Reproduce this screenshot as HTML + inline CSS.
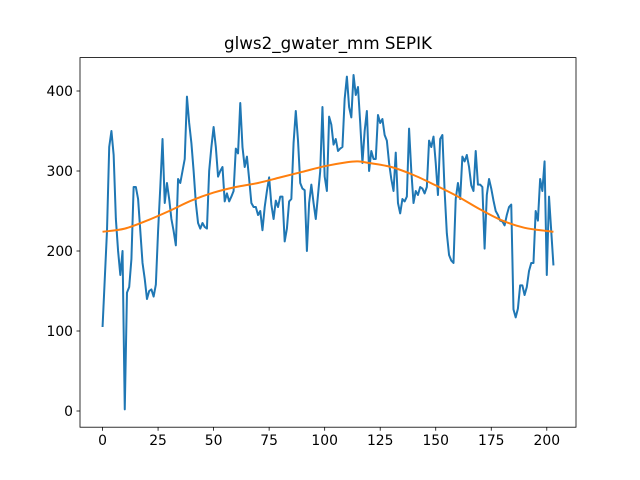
<!DOCTYPE html>
<html><head><meta charset="utf-8"><style>
body{margin:0;background:#fff}
svg{display:block;font-family:"DejaVu Sans","Liberation Sans",sans-serif}
</style></head><body>
<svg id="chart" width="640" height="480" viewBox="0 0 640 480">
<rect width="640" height="480" fill="#fff"/>
<text x="328" y="49" text-anchor="middle" font-size="16.7">glws2_gwater_mm SEPIK</text>
<g id="ticks"></g>
<g id="series"></g>
<rect x="80" y="57.6" width="496" height="369.6" fill="none" stroke="#000" stroke-width="0.8"/>
</svg>
<script>
const values = [105,165,225,330,350,320,240,200,170,200,2,148,155,190,280,280,265,225,185,165,140,150,152,143,158,225,280,340,260,285,265,240,225,207,290,285,300,315,393,360,335,300,260,235,228,235,230,228,300,330,355,330,293,300,305,262,272,262,268,275,328,322,385,330,305,318,290,260,255,255,245,250,226,255,275,292,258,240,263,255,268,268,212,228,262,265,335,375,338,285,278,276,200,260,283,260,240,270,300,380,293,275,368,358,333,340,325,328,330,390,418,380,367,420,395,405,360,310,350,375,300,325,315,315,370,360,365,345,338,310,290,275,323,260,247,265,262,268,353,300,260,275,270,280,278,272,280,338,330,343,310,270,340,345,275,222,195,188,185,265,285,265,318,312,320,305,282,275,325,283,283,280,203,270,290,278,263,250,245,238,237,232,245,255,258,127,117,128,157,157,145,155,175,185,185,250,238,290,275,312,170,268,225,182];
const fitX = [0,10,20,30,40,50,60,70,80,90,100,110,115,120,130,140,150,160,170,180,190,200,203];
const fitY = [224,228,238,250,263,273,280,285,292,299,306,311,312,310,305,295,282,268,252,238,229,225,224];
const xTicks = [0,25,50,75,100,125,150,175,200];
const yTicks = [0,100,200,300,400];
const NS="http://www.w3.org/2000/svg";
const X0=80,X1=576,Y0=427.2,Y1=57.6;
const xmin=-10.15,xmax=213.15,ymin=-20.25,ymax=441.75;
const sx=v=>X0+(v-xmin)/(xmax-xmin)*(X1-X0);
const sy=v=>Y0-(v-ymin)/(ymax-ymin)*(Y0-Y1);
const tg=document.getElementById('ticks'), sg=document.getElementById('series');
function mk(tag,attrs,parent){const e=document.createElementNS(NS,tag);for(const k in attrs)e.setAttribute(k,attrs[k]);parent.appendChild(e);return e;}
xTicks.forEach(t=>{
  const l=mk('line',{x1:sx(t),x2:sx(t),y1:Y0,y2:Y0+3.5,stroke:'#000','stroke-width':0.8},tg);
  
  
  const tx=mk('text',{x:sx(t),y:Y0+18,'text-anchor':'middle','font-size':13.9},tg);
  tx.textContent=t;
  
  
});
yTicks.forEach(t=>{
  const l=mk('line',{x1:X0-3.5,x2:X0,y1:sy(t),y2:sy(t),stroke:'#000','stroke-width':0.8},tg);
  
  
  const tx=mk('text',{x:X0-7,y:sy(t)+5,'text-anchor':'end','font-size':13.9},tg);
  tx.textContent=t;
  
  
});
const d=values.map((v,i)=>(i?'L':'M')+sx(i).toFixed(2)+','+sy(v).toFixed(2)).join('');
const p1=mk('path',{d:d,fill:'none',stroke:'#1f77b4','stroke-width':2,'stroke-linejoin':'round'},sg);


// Catmull-Rom smooth path for fit
const pts=fitX.map((x,i)=>[sx(x),sy(fitY[i])]);
let fd='M'+pts[0][0]+','+pts[0][1];
for(let i=0;i<pts.length-1;i++){
  const p0=pts[Math.max(0,i-1)],a=pts[i],b=pts[i+1],p3=pts[Math.min(pts.length-1,i+2)];
  const c1=[a[0]+(b[0]-p0[0])/6,a[1]+(b[1]-p0[1])/6],c2=[b[0]-(p3[0]-a[0])/6,b[1]-(p3[1]-a[1])/6];
  fd+='C'+c1.join(',')+' '+c2.join(',')+' '+b.join(',');
}
const p2=mk('path',{d:fd,fill:'none',stroke:'#ff7f0e','stroke-width':2},sg);


</script>
</body></html>
